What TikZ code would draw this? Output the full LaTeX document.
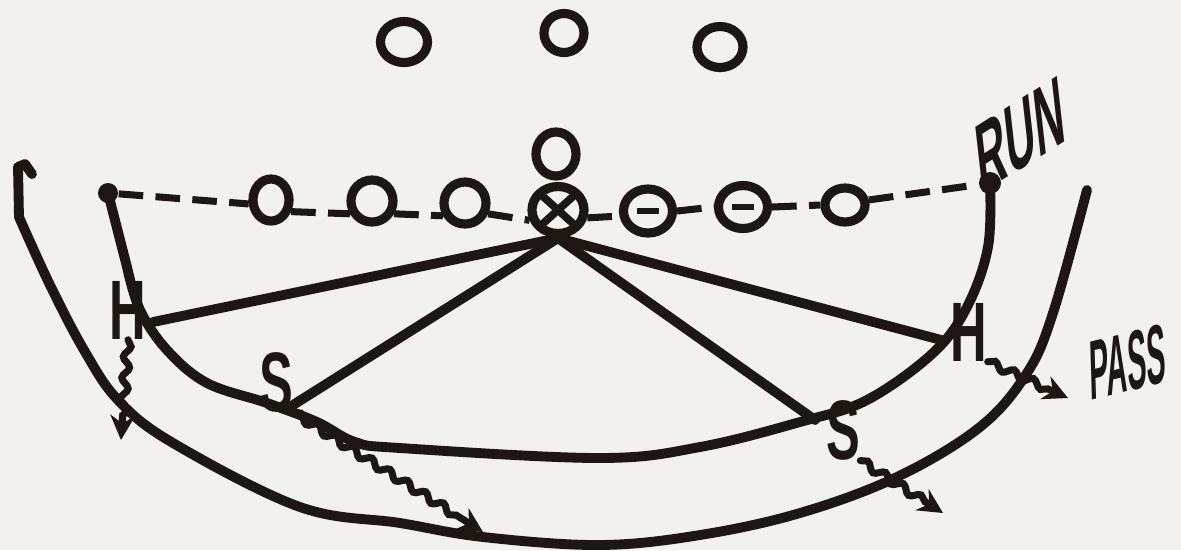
\documentclass[tikz,border=0pt]{standalone}
\usepackage{fontspec}
\setmainfont{Liberation Sans}
\usetikzlibrary{shapes.geometric,decorations.pathmorphing,arrows.meta}
\definecolor{ink}{RGB}{30,22,18}
\definecolor{paper}{RGB}{243,241,237}
\tikzset{
  plyr/.style={ellipse,draw=ink,line width=2.6pt,inner sep=0pt},
  minus/.style={path picture={\draw[ink,line width=1.8pt] ([xshift=-.11cm]path picture bounding box.center)--([xshift=.11cm]path picture bounding box.center);}},
  cross/.style={path picture={\draw[ink,line width=2.2pt] (path picture bounding box.north west)--(path picture bounding box.south east) (path picture bounding box.north east)--(path picture bounding box.south west);}},
  dot/.style={circle,fill=ink,inner sep=0pt,minimum size=.2cm},
  route/.style={draw=ink,line width=2.8pt,line cap=round,line join=round},
  gap/.style={draw=ink,line width=2pt,dash pattern=on 7pt off 3.5pt},
  wavy/.style={draw=ink,line width=2pt,line cap=round,decorate,decoration={snake,amplitude=1pt,segment length=6pt,post length=6pt},-{Stealth[length=7pt,width=7pt]}},
  tag/.style={text=ink,font=\bfseries\fontsize{24}{24}\selectfont,inner sep=0pt,xscale=.6}
}
\begin{document}
\begin{tikzpicture}[x=.01cm,y=-.01cm]
  \fill[paper] (0,0) rectangle (1181,550);
  \useasboundingbox (0,0) rectangle (1181,550);
  \node[plyr,minimum width=.47cm,minimum height=.41cm] (t1) at (404,42) {};
  \node[plyr,minimum width=.40cm,minimum height=.39cm] (t2) at (564,33) {};
  \node[plyr,minimum width=.46cm,minimum height=.41cm] (t3) at (720,47) {};
  \node[plyr,minimum width=.40cm,minimum height=.44cm] (qb) at (556,154) {};
  \node[plyr,cross,minimum width=.52cm,minimum height=.47cm] (cx) at (558,210) {};
  \node[plyr,minimum width=.36cm,minimum height=.42cm] (l1) at (271,200) {};
  \node[plyr,minimum width=.42cm,minimum height=.42cm] (l2) at (372,201) {};
  \node[plyr,minimum width=.42cm,minimum height=.42cm] (l3) at (465,203) {};
  \node[plyr,minus,minimum width=.49cm,minimum height=.44cm] (r1) at (648,211) {};
  \node[plyr,minus,minimum width=.49cm,minimum height=.43cm] (r2) at (743,207) {};
  \node[plyr,minimum width=.40cm,minimum height=.34cm] (r3) at (845,205) {};
  \node[dot] (ldot) at (108,193) {}; \node[dot,minimum size=.22cm] (rdot) at (990,183) {};
  \draw[gap] (ldot) -- (l1.190); \draw[gap] (l1.-30) -- (l2.-150); \draw[gap] (l2.-30) -- (l3.-150);
  \draw[gap] (l3.-25) -- (cx.-160); \draw[gap] (cx.-15) -- (r1.-170);
  \draw[gap] (r1.east) -- (r2.west); \draw[gap] (r2.east) -- (r3.west); \draw[gap] (r3.12) -- (rdot);
  \draw[route] (32,174) -- (25,164) -- (18,167) -- plot[smooth,tension=.6] coordinates {(19,217) (50,285) (84,350) (118,400) (173,443) (300,507) (400,523) (483,537) (600,545) (700,535) (800,513) (897,477) (980,427) (1027,373) (1053,313) (1087,190)};
  \draw[route] (ldot.center) -- plot[smooth,tension=.6] coordinates {(127,267) (140,310) (167,350) (207,383) (267,403) (317,422) (355,442) (400,448) (600,458) (700,447) (800,422) (867,400) (933,353) (967,307) (988,247) (rdot.center)};
  \coordinate (lh) at (153,322); \coordinate (ls) at (293,405); \coordinate (rs) at (815,420); \coordinate (rh) at (945,341);
  \draw[route] (cx.south) -- (lh); \draw[route] (cx.south) -- (ls); \draw[route] (cx.south) -- (rs); \draw[route] (cx.south) -- (rh);
  \node[tag] (lHl) at (128,310) {H}; \node[tag] (lSl) at (276,382) {S};
  \node[tag] (rHl) at (969,332) {H}; \node[tag] (rSl) at (843,430) {S};
  \node[tag,font=\bfseries\fontsize{28}{28}\selectfont,xscale=.7,rotate=15] (run) at (1020,135) {RUN};
  \node[tag,font=\bfseries\fontsize{24}{24}\selectfont,xscale=.57,rotate=5] (pass) at (1128,362) {PASS};
  \coordinate (lHend) at (121,440); \coordinate (lSend) at (483,532);
  \coordinate (rHend) at (1068,398); \coordinate (rSend) at (943,513);
  \draw[wavy] (lHl.south) -- (lHend); \draw[wavy] (lSl.south east) -- (lSend);
  \draw[wavy] (rHl.south east) -- (rHend); \draw[wavy] (rSl.south east) -- (rSend);
\end{tikzpicture}
\end{document}
